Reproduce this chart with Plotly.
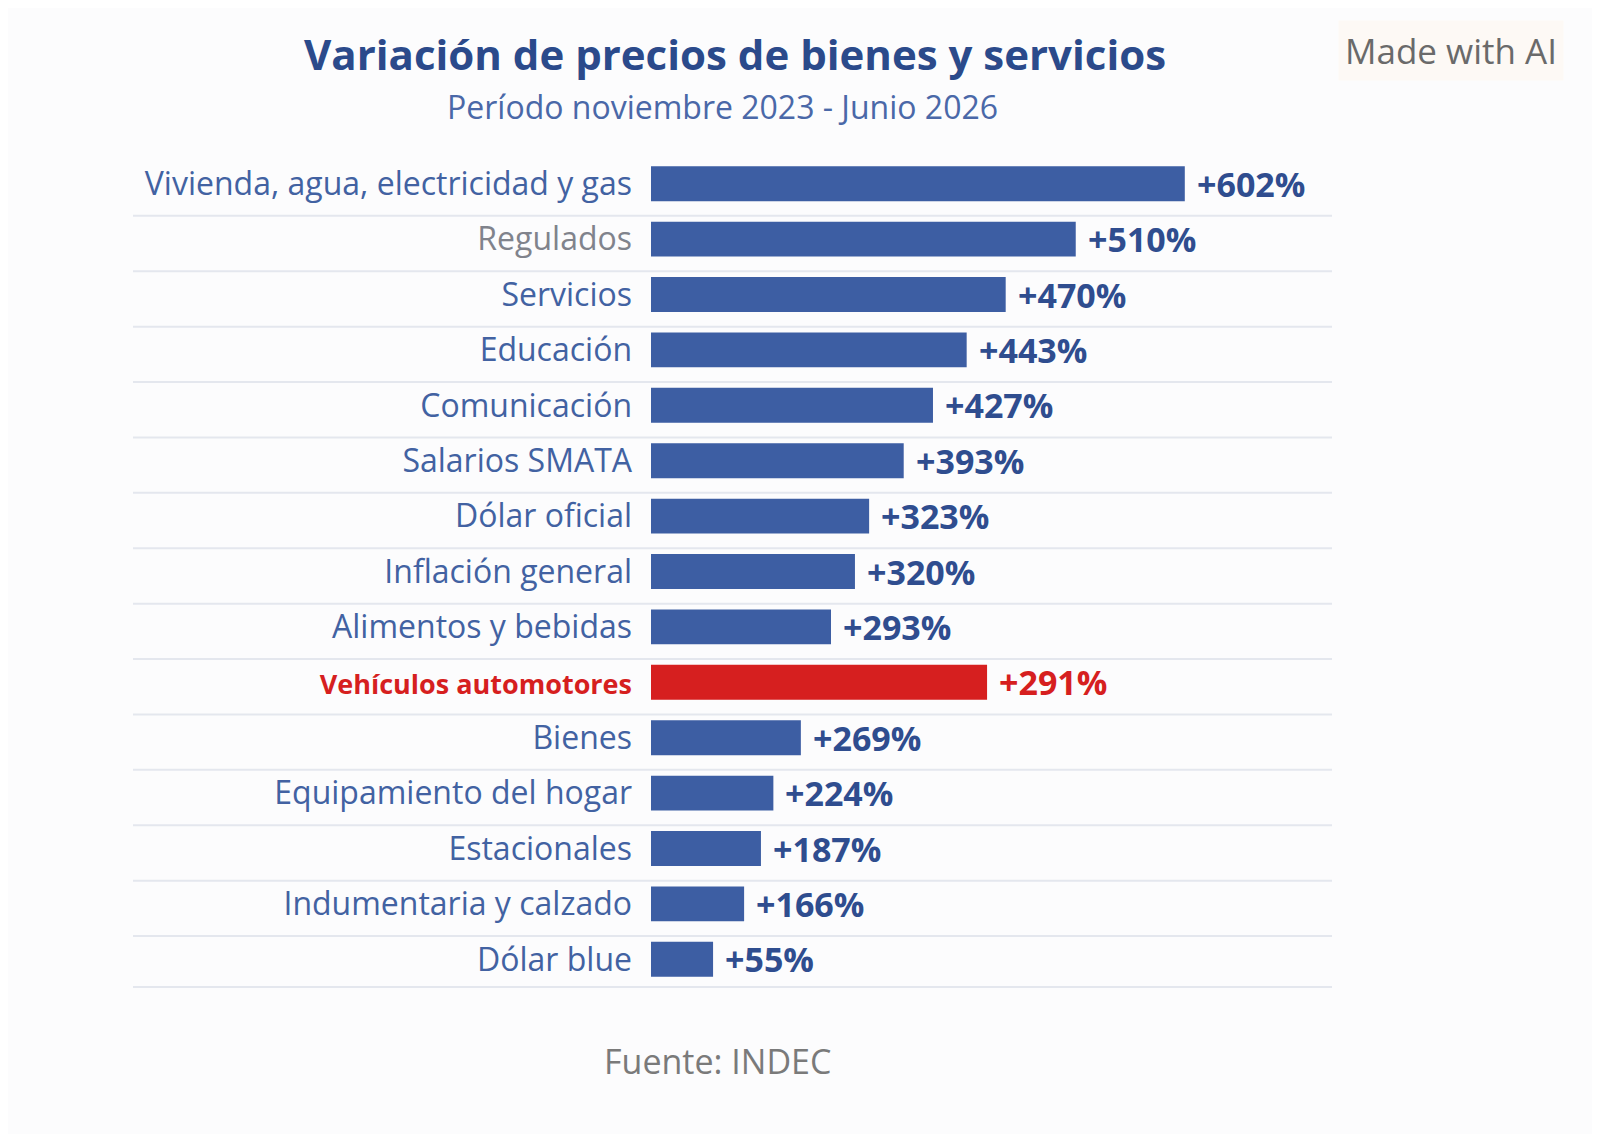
import plotly.graph_objects as go

# ─────────────────────────────────────────────────────────────────────────────
# DATOS
# ─────────────────────────────────────────────────────────────────────────────

categorias = [
    "Vivienda, agua, electricidad y gas",
    "Regulados",
    "Servicios",
    "Educación",
    "Comunicación",
    "Salarios SMATA",
    "Dólar oficial",
    "Inflación general",
    "Alimentos y bebidas",
    "Vehículos automotores",
    "Bienes",
    "Equipamiento del hogar",
    "Estacionales",
    "Indumentaria y calzado",
    "Dólar blue",
]

# variación rotulada (%)
variacion = [602, 510, 470, 443, 427, 393, 323, 320, 293, 291, 269, 224, 187, 166, 55]

# largo de barra tal como está dibujado en la imagen (misma escala que 602)
largo_barra = [602, 479, 400, 356, 318, 285, 246, 230, 203, 379, 169, 138, 124, 105, 70]

destacado = "Vehículos automotores"
gris_label = "Regulados"

# ─────────────────────────────────────────────────────────────────────────────
# ESTILO
# ─────────────────────────────────────────────────────────────────────────────

FONT = "Open Sans"
AZUL = "#3d5ea3"
AZUL_TXT = "#2f4d8f"
AZUL_LBL = "#4262a2"
ROJO = "#d61f1f"
GRIS = "#80838c"
FONDO = "#fcfcfd"

# el body de la página desplaza la figura 8 px: se compensa acá
OFF = 8
L, R, T, B = 651 - OFF, 268 + OFF, 156 - OFF, 146 + OFF
W, H = 1600, 1134
PW, PH = W - L - R, H - T - B


def px_x(px):
    return (px - OFF - L) / PW


def px_y(py):
    return (H - B - (py - OFF)) / PH


def _etiqueta(c):
    if c == destacado:
        return f"<b><span style='color:{ROJO};font-size:27px'>{c}</span></b>"
    if c == gris_label:
        return f"<span style='color:{GRIS}'>{c}</span>"
    return c


def _texto(px, py, text, size, color, **kw):
    fig.add_annotation(
        x=px_x(px), y=px_y(py), xref="paper", yref="paper", showarrow=False,
        xanchor="center", yanchor="middle", text=text,
        font=dict(family=FONT, size=size, color=color), **kw,
    )


colores = [ROJO if c == destacado else AZUL for c in categorias]

fig = go.Figure(go.Bar(
    x=largo_barra,
    y=categorias,
    orientation="h",
    width=0.63,
    marker=dict(color=colores, line_width=0),
    hoverinfo="skip",
))

# líneas separadoras entre filas
for i in range(len(categorias)):
    yy = min(i + 0.58, len(categorias) - 0.5)
    fig.add_shape(type="line", xref="paper", yref="y",
                  x0=px_x(133), x1=1.0, y0=yy, y1=yy,
                  line=dict(color="#e4e7ee", width=2), layer="below")

# rótulos de valor
for c, v, lb in zip(categorias, variacion, largo_barra):
    fig.add_annotation(
        x=lb, y=c, text=f"<b>+{v}%</b>", showarrow=False,
        xanchor="left", xshift=10,
        font=dict(family=FONT, size=34, color=ROJO if c == destacado else AZUL_TXT),
    )

_texto(735, 53, "<b>Variación de precios de bienes y servicios</b>", 42, "#2b4a8b")
_texto(722, 107, "Período noviembre 2023 - Junio 2026", 32, "#4a68a8")
_texto(1451, 51, "Made with AI", 35, "#6a6a6a", bgcolor="#fdf9f5", borderpad=6)
_texto(717, 1061, "Fuente: INDEC", 34, "#7a7a7a")

fig.update_layout(
    width=W, height=H,
    margin=dict(l=L, r=R, t=T, b=B),
    paper_bgcolor=FONDO, plot_bgcolor=FONDO,
    showlegend=False,
    bargap=0.37,
    xaxis=dict(range=[0, 768], visible=False, automargin=False),
    yaxis=dict(
        type="category", autorange="reversed",
        tickvals=categorias, ticktext=[_etiqueta(c) for c in categorias],
        tickfont=dict(family=FONT, size=32, color=AZUL_LBL),
        ticks="", showgrid=False, zeroline=False, showline=False,
        ticklabelstandoff=18, automargin=False,
    ),
)

fig.write_html("out.html")
